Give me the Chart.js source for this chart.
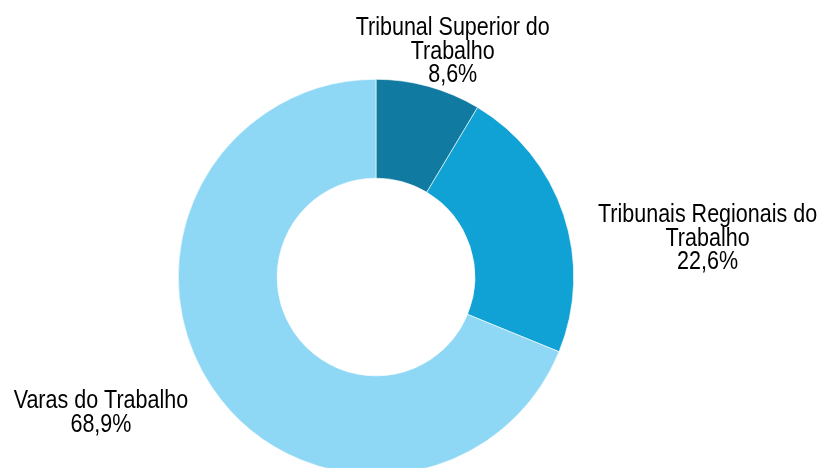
<!DOCTYPE html>
<html>
<head>
<meta charset="utf-8">
<script src="https://cdn.jsdelivr.net/npm/chart.js@4/dist/chart.umd.min.js"></script>
<style>
  html, body { margin: 0; padding: 0; background: #fff; overflow: hidden; }
  #wrap { width: 824px; height: 468px; overflow: hidden; }
</style>
</head>
<body>
<div id="wrap"><canvas id="grafico" width="824" height="490"></canvas></div>
<script>
const categorias = ['Tribunal Superior do Trabalho', 'Tribunais Regionais do Trabalho', 'Varas do Trabalho'];
const percentuais = [8.6, 22.6, 68.9];
const rotulos = [
	['Tribunal Superior do', 'Trabalho'],
	['Tribunais Regionais do', 'Trabalho'],
	['Varas do Trabalho']
];

const cores = ['#107AA1', '#10A1D5', '#8FD8F5'];

// deslocamento do rótulo (centro x, primeira linha de base) em relação ao ponto externo da fatia
const offsets = [
	{ dx: 24, dy: -51 },
	{ dx: 144, dy: 8 },
	{ dx: -111, dy: 21 }
];

// não há fonte condensada instalada: fonte maior comprimida na horizontal
const fonte = '25px "Liberation Sans", Arial, sans-serif';
const compressao = 0.86;
const alturaLinha = 23.4;

const rotulosPlugin = {
	id: 'rotulos',
	afterDraw(chart) {
		const c = chart.ctx;
		const meta = chart.getDatasetMeta(0);
		c.save();
		c.font = fonte;
		c.fillStyle = '#000';
		c.textAlign = 'center';
		c.textBaseline = 'alphabetic';
		meta.data.forEach((arc, i) => {
			const ang = (arc.startAngle + arc.endAngle) / 2;
			const x0 = arc.x + Math.cos(ang) * arc.outerRadius;
			const y0 = arc.y + Math.sin(ang) * arc.outerRadius;
			const linhas = rotulos[i].concat([percentuais[i].toFixed(1).replace('.', ',') + '%']);
			const o = offsets[i];
			linhas.forEach((t, k) => {
				c.save();
				c.translate(x0 + o.dx, y0 + o.dy + alturaLinha * k);
				c.scale(compressao, 1);
				c.fillText(t, 0, 0);
				c.restore();
			});
		});
		c.restore();
	}
};

let ctx = document.getElementById('grafico').getContext('2d');

let grafico = new Chart(ctx, {
	type: 'doughnut',
	data: {
		labels: categorias,
		datasets: [{
			data: percentuais,
			backgroundColor: cores,
			borderColor: '#ffffff',
			borderWidth: 0.6
		}]
	},
	options: {
		responsive: false,
		animation: false,
		cutout: '50%',
		layout: { padding: { left: 178, right: 250, top: 79, bottom: 15 } },
		plugins: {
			legend: { display: false },
			tooltip: { enabled: false }
		}
	},
	plugins: [rotulosPlugin]
});
</script>
</body>
</html>
